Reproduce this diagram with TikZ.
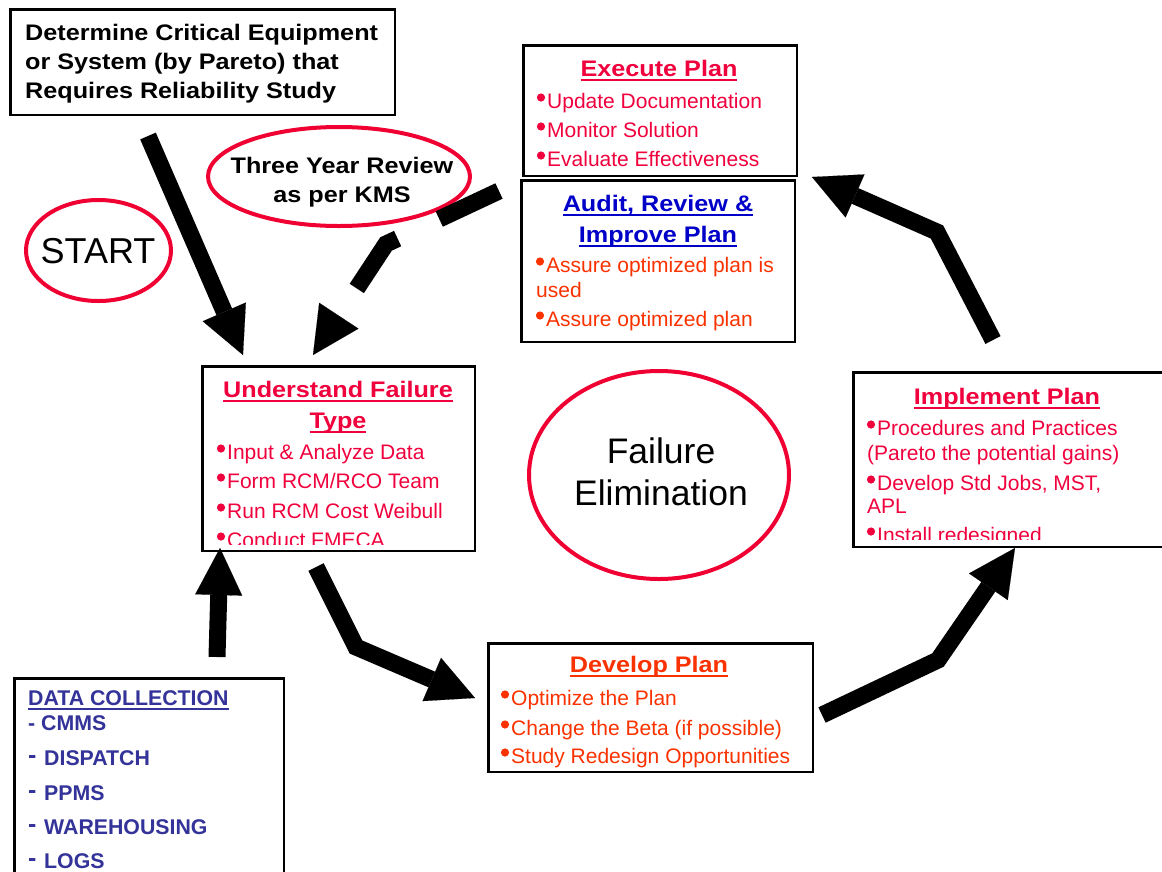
\documentclass[tikz,border=0pt]{standalone}
\usepackage{fontspec}
\setmainfont{Liberation Sans}
\newfontfamily\widebold{Liberation Sans}[FakeStretch=1.12]
\usetikzlibrary{shapes.geometric,arrows.meta}
\definecolor{crim}{RGB}{240,0,60}
\definecolor{orred}{RGB}{250,50,0}
\definecolor{audblue}{RGB}{0,0,200}
\definecolor{navyb}{RGB}{51,51,153}
\definecolor{ellred}{RGB}{240,0,50}
\newcommand\myul[1]{\sbox0{#1}\rlap{\rule[-4.5pt]{\wd0}{2pt}}\usebox0}
\newcommand\dsh{\makebox[16pt][l]{\smash{\raisebox{1.5pt}{\fontsize{25}{25}\selectfont -}}}}
% bulleted item: name, x, y, colour, text
\newcommand\bitem[5]{%
  \node[itm, text=#4] (#1) at (#2,#3) {\hspace{10pt}#5};
  \fill[#4] (#2+4,#3-10.5) circle (4.1pt);}
\tikzset{
 box/.style={draw=black, line width=2.5pt, inner sep=0pt, rectangle},
 oval/.style={draw=ellred, line width=4pt, ellipse, inner sep=0pt},
 ttl/.style={anchor=base, inner sep=0pt, font=\widebold\bfseries\fontsize{22.5}{22.5}\selectfont},
 itm/.style={anchor=base west, inner sep=0pt, font=\fontsize{21}{21}\selectfont},
 dat/.style={anchor=base west, inner sep=0pt, text=navyb, font=\bfseries\fontsize{21.3}{21.3}\selectfont},
 big/.style={anchor=base, inner sep=0pt, font=\fontsize{35.5}{35.5}\selectfont},
 arr/.style={line width=17pt, line join=miter, -{Triangle[length=47pt,width=47pt,line width=0.1pt]}},
}
\begin{document}
\begin{tikzpicture}[x=1pt,y=-1pt]
\useasboundingbox (0,0) rectangle (1162,871);
\fill[white] (0,0) rectangle (1162,871);

% boxes
\node[box, minimum width=384.5pt, minimum height=105.5pt] (det) at (202.5,62) {};
\node[box, minimum width=273.5pt, minimum height=130.5pt] (exec) at (660,110.5) {};
\node[box, minimum width=273.5pt, minimum height=161.5pt] (aud) at (658,261) {};
\node[box, minimum width=272.5pt, minimum height=184.5pt] (und) at (338.5,458.5) {};
\node[box, minimum width=320.5pt, minimum height=174.5pt] (imp) at (1013.5,459.5) {};
\node[box, minimum width=324.5pt, minimum height=128.5pt] (dev) at (650.5,707.5) {};
\node[box, minimum width=269.5pt, minimum height=220pt] (data) at (149,788.5) {};

% ovals
\node[oval, minimum width=145pt, minimum height=101pt] (start) at (98.5,250.5) {};
\node[oval, minimum width=262pt, minimum height=99pt] (three) at (339,176.5) {};
\node[oval, minimum width=260pt, minimum height=208pt] (fe) at (659,475) {};

% determine text
\node[ttl, anchor=base west] (d1) at (25,40) {Determine Critical Equipment};
\node[ttl, anchor=base west] (d2) at (25,69) {or System (by Pareto) that};
\node[ttl, anchor=base west] (d3) at (25,98) {Requires Reliability Study};

% oval texts
\node[anchor=base, inner sep=0pt, font=\fontsize{36}{36}\selectfont] (st) at (98,263) {START};
\node[ttl] (t1) at (342,173) {Three Year Review};
\node[ttl] (t2) at (342,202) {as per KMS};
\node[big] (f1) at (661,463) {Failure};
\node[big] (f2) at (661,505) {Elimination};

% execute plan
\node[ttl, text=crim] (ex0) at (659,76) {\myul{Execute Plan}};
\bitem{ex1}{537}{108}{crim}{Update Documentation}
\bitem{ex2}{537}{137}{crim}{Monitor Solution}
\bitem{ex3}{537}{166}{crim}{Evaluate Effectiveness}

% audit
\node[ttl, text=audblue] (au0) at (658,211) {\myul{Audit, Review \&}};
\node[ttl, text=audblue] (au1) at (658,242) {\myul{Improve Plan}};
\bitem{au2}{536}{272}{orred}{Assure optimized plan is}
\node[itm, text=orred] (au3) at (536,297) {used};
\bitem{au4}{536}{326}{orred}{Assure optimized plan}

% understand
\node[ttl, text=crim] (un0) at (338,397) {\myul{Understand Failure}};
\node[ttl, text=crim] (un1) at (338,428) {\myul{Type}};
\begin{scope}
\clip (201,365) rectangle (476,544);
\bitem{un2}{217}{459}{crim}{Input \& Analyze Data}
\bitem{un3}{217}{488}{crim}{Form RCM/RCO Team}
\bitem{un4}{217}{518}{crim}{Run RCM Cost Weibull}
\bitem{un5}{217}{547}{crim}{Conduct FMECA}
\end{scope}

% implement
\node[ttl, text=crim] (im0) at (1007,404) {\myul{Implement Plan}};
\begin{scope}
\clip (852,371) rectangle (1162,539);
\bitem{im1}{867}{435}{crim}{Procedures and Practices}
\node[itm, text=crim] (im2) at (867,460) {(Pareto the potential gains)};
\bitem{im3}{867}{490}{crim}{Develop Std Jobs, MST,}
\node[itm, text=crim] (im4) at (867,513) {APL};
\bitem{im5}{867}{542}{crim}{Install redesigned}
\end{scope}

% develop
\node[ttl, text=orred] (dv0) at (649,672) {\myul{Develop Plan}};
\bitem{dv1}{501}{705}{orred}{Optimize the Plan}
\bitem{dv2}{501}{735}{orred}{Change the Beta (if possible)}
\bitem{dv3}{501}{763}{orred}{Study Redesign Opportunities}

% data collection
\node[dat] (dc0) at (28,705) {\myul{DATA COLLECTION}};
\node[dat] (dc1) at (28,730) {- CMMS};
\node[dat] (dc2) at (28,765) {\dsh DISPATCH};
\node[dat] (dc3) at (28,800) {\dsh PPMS};
\node[dat] (dc4) at (28,834) {\dsh WAREHOUSING};
\node[dat] (dc5) at (28,868) {\dsh LOGS};

% arrow coordinates
\coordinate (aS) at (148,136);  \coordinate (aE) at (243,355);
\coordinate (bS) at (499,191);  \coordinate (bB) at (386,244); \coordinate (bE) at (313,355);
\coordinate (cS) at (316,567);  \coordinate (cB) at (356,647); \coordinate (cE) at (475,698);
\coordinate (dS) at (822,715);  \coordinate (dB) at (938,660); \coordinate (dE) at (1015,548);
\coordinate (eS) at (993,340);  \coordinate (eB) at (937,232); \coordinate (eE) at (812,177);
\coordinate (fS) at (217,657);  \coordinate (fE) at (220,548);

\draw[arr] (aS) -- (aE);
\draw[arr, dash pattern=on 66pt off 46pt] (bS) -- (bB) -- (bE);
\draw[arr] (cS) -- (cB) -- (cE);
\draw[arr] (dS) -- (dB) -- (dE);
\draw[arr] (eS) -- (eB) -- (eE);
\draw[arr] (fS) -- (fE);
\end{tikzpicture}
\end{document}
